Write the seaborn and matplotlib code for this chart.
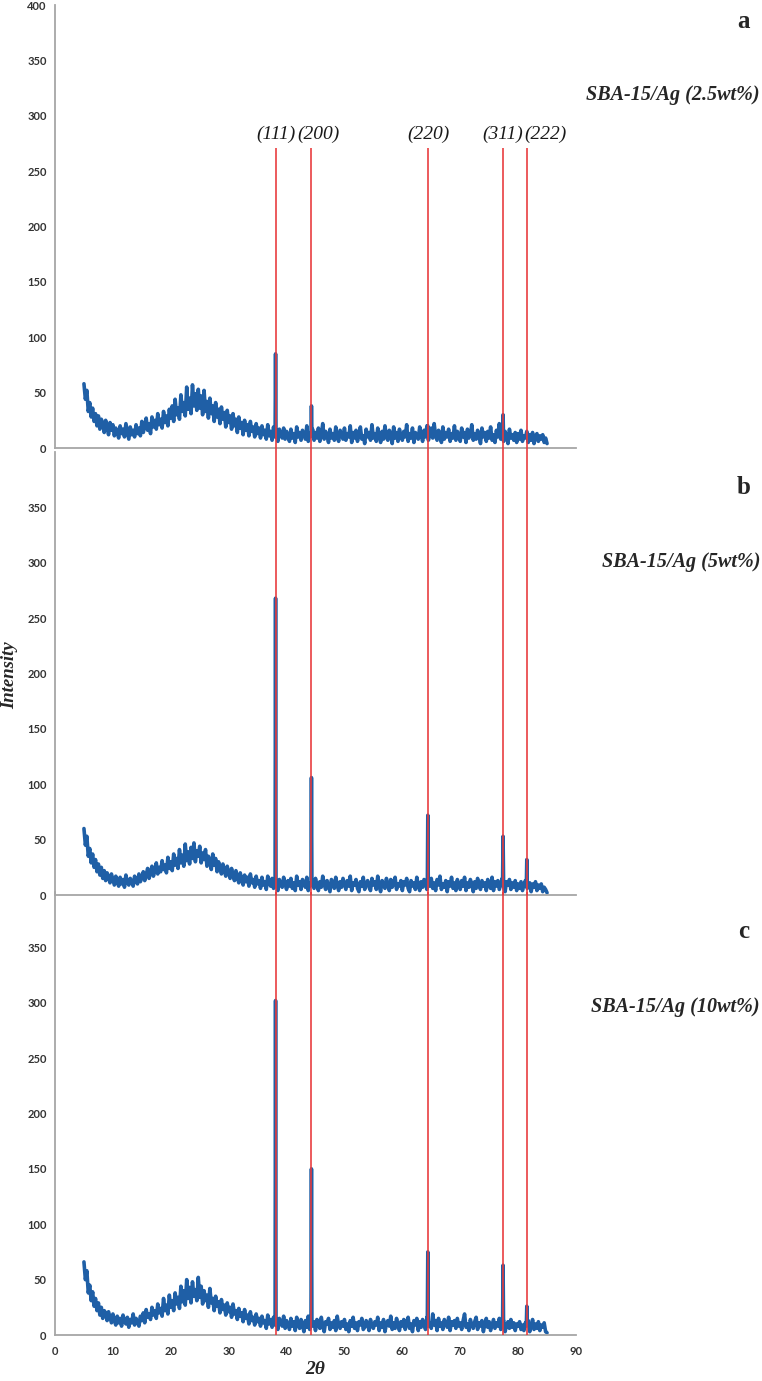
import numpy as np
import matplotlib
matplotlib.use("Agg")
import matplotlib.pyplot as plt
import seaborn as sns

# ---------------- data (2θ from 5 to 85 in 0.25° steps) ----------------
two_theta_start, two_theta_stop, two_theta_step = 5.0, 85.0, 0.25

bg_a = [58, 44, 52, 33, 41, 28, 36, 24, 31, 20, 29, 17, 26, 22, 14, 25, 19, 12, 23, 16,
        21, 11, 18, 14, 9, 20, 13, 17, 10, 22, 15, 8, 19, 12, 16, 10, 21, 13, 18, 11,
        24, 14, 20, 27, 16, 22, 13, 28, 19, 25, 17, 31, 21, 26, 18, 33, 23, 29, 20, 35,
        27, 38, 24, 44, 30, 36, 26, 48, 33, 41, 29, 55, 35, 45, 31, 57, 38, 49, 34, 53,
        36, 47, 30, 52, 33, 42, 27, 45, 31, 38, 24, 41, 28, 35, 22, 37, 26, 32, 19, 34,
        23, 29, 17, 31, 20, 26, 14, 28, 18, 23, 12, 25, 16, 21, 11, 24, 15, 19, 10, 22,
        13, 18, 9, 20, 12, 16, 8, 21, 11, 15, 7, 19, 10, 14, 6, 17, 12, 9, 18, 8,
        15, 11, 6, 17, 9, 13, 5, 19, 10, 14, 7, 16, 12, 8, 20, 6, 13, 10, 17, 7,
        14, 9, 18, 6, 12, 22, 8, 15, 11, 5, 17, 9, 13, 7, 19, 10, 6, 16, 12, 8,
        18, 7, 13, 10, 20, 5, 14, 9, 16, 6, 12, 19, 8, 11, 4, 17, 10, 14, 7, 21,
        9, 13, 6, 18, 11, 5, 15, 8, 20, 10, 7, 16, 12, 4, 19, 9, 14, 6, 17, 11,
        7, 15, 10, 21, 6, 13, 9, 18, 5, 14, 11, 8, 19, 12, 6, 16, 10, 20, 7, 13,
        18, 9, 22, 11, 7, 16, 12, 5, 19, 8, 14, 10, 17, 6, 13, 9, 20, 7, 15, 11,
        6, 18, 10, 14, 5, 17, 9, 12, 21, 7, 13, 8, 16, 11, 4, 18, 10, 14, 6, 15,
        9, 19, 7, 12, 5, 16, 10, 22, 8, 13, 6, 15, 11, 4, 17, 9, 12, 7, 14, 5,
        13, 8, 16, 6, 11, 9, 15, 5, 12, 7, 14, 4, 10, 13, 6, 11, 8, 12, 5, 9,
        4]

bg_b = [60, 45, 53, 35, 42, 29, 37, 25, 32, 21, 28, 18, 25, 15, 22, 13, 20, 16, 11, 19,
        14, 9, 17, 12, 8, 16, 10, 14, 7, 18, 11, 9, 15, 12, 8, 17, 13, 10, 19, 12,
        16, 21, 13, 18, 24, 15, 20, 26, 17, 22, 29, 19, 25, 21, 31, 23, 27, 20, 34, 24,
        30, 22, 37, 27, 33, 24, 41, 29, 36, 26, 46, 31, 39, 28, 43, 33, 47, 30, 40, 35,
        44, 29, 38, 32, 41, 26, 35, 30, 23, 37, 27, 33, 21, 30, 25, 19, 28, 22, 17, 26,
        20, 15, 24, 18, 13, 22, 16, 11, 20, 14, 9, 18, 12, 16, 8, 19, 11, 14, 7, 17,
        10, 13, 6, 16, 9, 12, 5, 17, 11, 8, 15, 6, 13, 10, 4, 14, 9, 7, 16, 10,
        5, 13, 8, 15, 6, 11, 4, 17, 9, 12, 5, 14, 10, 7, 16, 4, 11, 8, 13, 6,
        15, 9, 4, 12, 7, 17, 10, 5, 13, 8, 3, 14, 11, 6, 16, 9, 4, 12, 7, 15,
        10, 5, 13, 8, 17, 4, 11, 9, 14, 6, 3, 12, 8, 16, 5, 10, 13, 7, 4, 15,
        9, 12, 5, 17, 8, 3, 13, 10, 6, 15, 9, 4, 14, 7, 11, 16, 5, 10, 8, 13,
        4, 12, 9, 15, 6, 3, 13, 8, 11, 5, 16, 9, 4, 12, 7, 14, 10, 5, 13, 8,
        15, 6, 11, 4, 14, 9, 17, 5, 10, 7, 13, 3, 12, 8, 16, 6, 11, 4, 14, 9,
        5, 13, 8, 16, 4, 11, 7, 14, 10, 3, 12, 6, 15, 9, 5, 13, 8, 11, 4, 14,
        9, 6, 16, 4, 12, 8, 13, 5, 10, 15, 7, 3, 12, 9, 14, 5, 11, 7, 13, 4,
        10, 6, 12, 4, 9, 13, 5, 8, 11, 3, 10, 7, 12, 4, 9, 6, 10, 3, 7, 5,
        2]

bg_c = [66, 50, 58, 38, 45, 31, 39, 26, 33, 22, 29, 18, 25, 15, 22, 20, 13, 21, 16, 11,
        19, 13, 9, 17, 11, 15, 8, 18, 12, 10, 16, 7, 14, 11, 19, 9, 15, 12, 8, 17,
        13, 20, 11, 23, 16, 19, 14, 25, 18, 22, 15, 28, 20, 24, 17, 33, 22, 27, 19, 36,
        25, 31, 22, 38, 28, 34, 24, 44, 30, 40, 27, 50, 33, 43, 29, 48, 35, 41, 31, 52,
        34, 44, 28, 40, 31, 36, 25, 42, 29, 33, 22, 35, 26, 30, 20, 32, 23, 27, 18, 29,
        21, 25, 16, 28, 19, 22, 14, 24, 17, 20, 12, 23, 15, 18, 10, 21, 13, 16, 9, 19,
        12, 15, 8, 17, 11, 13, 6, 18, 10, 14, 7, 16, 9, 12, 5, 15, 11, 8, 17, 6,
        13, 9, 5, 15, 8, 12, 4, 16, 10, 6, 14, 9, 3, 13, 7, 17, 5, 11, 8, 12,
        4, 14, 9, 6, 16, 8, 3, 12, 10, 15, 5, 11, 7, 13, 4, 17, 9, 6, 12, 8,
        14, 5, 10, 3, 13, 8, 16, 6, 11, 4, 12, 9, 15, 5, 7, 13, 10, 4, 14, 8,
        6, 12, 9, 16, 4, 11, 7, 14, 3, 10, 13, 8, 17, 5, 11, 6, 15, 9, 4, 12,
        8, 14, 5, 11, 16, 6, 10, 3, 13, 9, 15, 4, 12, 7, 14, 10, 5, 16, 8, 11,
        6, 19, 9, 13, 4, 15, 8, 11, 5, 14, 10, 7, 16, 4, 12, 9, 13, 6, 15, 8,
        11, 5, 13, 19, 7, 10, 4, 14, 9, 6, 12, 16, 5, 11, 8, 13, 3, 10, 15, 7,
        12, 4, 9, 14, 6, 11, 8, 15, 5, 10, 13, 3, 9, 12, 6, 14, 7, 11, 4, 10,
        8, 12, 5, 9, 4, 11, 7, 13, 3, 8, 14, 5, 10, 6, 12, 4, 9, 7, 11, 3,
        2]

peak_pos = [38.1, 44.3, 64.4, 77.4, 81.5]
peak_labels = ["(111)", "(200)", "(220)", "(311)", "(222)"]
peaks_a = [85, 38, 20, 30, 15]
peaks_b = [268, 106, 72, 53, 32]
peaks_c = [302, 150, 75, 63, 26]

sample_names = ["SBA-15/Ag (2.5wt%)", "SBA-15/Ag (5wt%)", "SBA-15/Ag (10wt%)"]
panel_letters = ["a", "b", "c"]

y_ticks_a = [0, 50, 100, 150, 200, 250, 300, 350, 400]
y_ticks_bc = [0, 50, 100, 150, 200, 250, 300, 350]
x_ticks = [0, 10, 20, 30, 40, 50, 60, 70, 80, 90]

# ---------------- helpers ----------------
grid = np.arange(two_theta_start, two_theta_stop + 1e-9, two_theta_step)


def build_series(bg, peaks):
    bg = np.asarray(bg, dtype=float)
    keep = np.ones(len(grid), dtype=bool)
    for p in peak_pos:
        keep &= np.abs(grid - p) > 0.09
    xs = list(grid[keep])
    ys = list(bg[keep])
    for p, h in zip(peak_pos, peaks):
        for dx, val in ((-0.08, None), (0.0, h), (0.08, None)):
            xx = p + dx
            xs.append(xx)
            ys.append(val if val is not None else float(np.interp(xx, grid, bg)))
    order = np.argsort(xs)
    return np.asarray(xs)[order], np.asarray(ys)[order]


# ---------------- figure ----------------
sns.set_theme(style="white")
plt.rcParams["font.family"] = ["Lato", "DejaVu Sans"]

W, H = 762, 1381
fig = plt.figure(figsize=(W / 100, H / 100), dpi=100)
fig.patch.set_facecolor("white")

left = 55 / W
width = (576 - 55) / W
ph = 443 / H
bottoms = [1 - 448 / H, 1 - 895 / H, 1 - 1335 / H]

axis_gray = "#A6A6A6"
blue = "#1F5FA6"
red = "#E8393C"
serif = ["Liberation Serif", "DejaVu Serif"]

series = [bg_a, bg_b, bg_c]
peaks_all = [peaks_a, peaks_b, peaks_c]
axes = []
for i in range(3):
    ax = fig.add_axes([left, bottoms[i], width, ph])
    ax.set_facecolor("none")
    xs, ys = build_series(series[i], peaks_all[i])
    sns.lineplot(x=xs, y=ys, ax=ax, color=blue, linewidth=2.6,
                 estimator=None, sort=True, zorder=2)
    ax.set_xlim(0, 90)
    ax.set_ylim(0, 400)
    for s in ("top", "right"):
        ax.spines[s].set_visible(False)
    for s in ("left", "bottom"):
        ax.spines[s].set_color(axis_gray)
        ax.spines[s].set_linewidth(1.3)
    ticks = y_ticks_a if i == 0 else y_ticks_bc
    ax.set_yticks(ticks)
    ax.set_yticklabels([str(t) for t in ticks],
                       fontsize=8, fontweight="bold", color="#333333")
    ax.tick_params(axis="y", direction="out", length=3, width=1, color=axis_gray, pad=3)
    ax.set_xticks(x_ticks)
    if i < 2:
        ax.tick_params(axis="x", length=0, labelbottom=False)
    else:
        ax.set_xticklabels([str(t) for t in x_ticks], fontsize=8,
                           fontweight="bold", color="#333333")
        ax.tick_params(axis="x", direction="out", length=4, width=1,
                       color=axis_gray, pad=4)
    ax.set_xlabel("")
    ax.set_ylabel("")
    ax.grid(False)
    axes.append(ax)

# red reference lines
axes[0].vlines(peak_pos, 0, 271, colors=red, linewidth=1.3, alpha=0.9, zorder=3)
axes[1].vlines(peak_pos, 0, 404, colors=red, linewidth=1.3, alpha=0.9, zorder=3,
               clip_on=False)
axes[2].vlines(peak_pos, 0, 400, colors=red, linewidth=1.3, alpha=0.9, zorder=3,
               clip_on=False)

# hkl labels
label_offsets_px = [0, 7, 1, 0, 19]
for p, lab, off in zip(peak_pos, peak_labels, label_offsets_px):
    axes[0].annotate(lab, xy=(p, 283), xytext=(off * 0.72, 0),
                     textcoords="offset points", ha="center", va="center",
                     fontsize=14, style="italic", family=serif, color="#1a1a1a")

# panel letters and sample names
letter_y = [22, 487, 932]
name_y = [95, 562, 1007]
for i in range(3):
    fig.text(744 / W, 1 - letter_y[i] / H, panel_letters[i], ha="center",
             va="center", fontsize=18, fontweight="bold", family=serif)
    fig.text(760 / W, 1 - name_y[i] / H, sample_names[i], ha="right",
             va="center", fontsize=14.5, fontweight="bold", style="italic",
             family=serif)

fig.text(10 / W, 1 - 675 / H, "Intensity", rotation=90, ha="center",
         va="center", fontsize=13.5, fontweight="bold", style="italic", family=serif)
fig.text(315 / W, 1 - 1369 / H, "2θ", ha="center", va="center",
         fontsize=14, fontweight="bold", style="italic", family=serif)

fig.savefig("out.png", dpi=100)
